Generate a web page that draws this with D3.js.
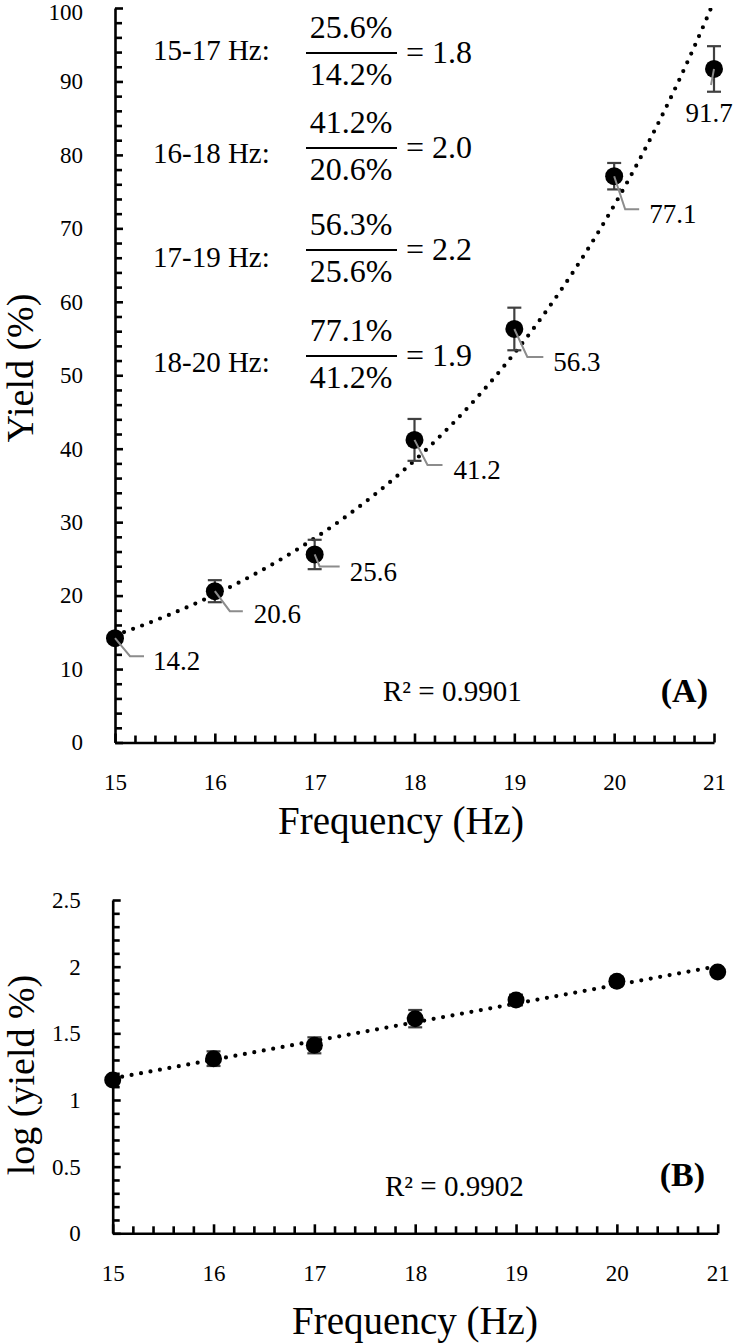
<!DOCTYPE html>
<html>
<head>
<meta charset="utf-8">
<script src="https://cdn.jsdelivr.net/npm/d3@7"></script>
<style>
  html, body { margin: 0; padding: 0; background: #fff; }
  svg { display: block; }
</style>
</head>
<body>
<svg id="chart" width="738" height="1343"></svg>
<script>
// ---------------- data ----------------
const freq = [15, 16, 17, 18, 19, 20, 21];
const yieldPct = [14.2, 20.6, 25.6, 41.2, 56.3, 77.1, 91.7];
const yieldErr = [0.3, 1.5, 2.0, 2.85, 2.9, 1.8, 3.1];
const logYield = [1.15, 1.31, 1.41, 1.61, 1.75, 1.89, 1.96];
const logErr = [0.02, 0.055, 0.06, 0.065, 0.04, 0.03, 0.02];
const yieldLabels = ["14.2", "20.6", "25.6", "41.2", "56.3", "77.1", "91.7"];

const xTicks = [15, 16, 17, 18, 19, 20, 21];
const yTicksA = [0, 10, 20, 30, 40, 50, 60, 70, 80, 90, 100];
const yTicksB = [0, 0.5, 1, 1.5, 2, 2.5];
const yTickLabelsB = ["0", "0.5", "1", "1.5", "2", "2.5"];

const ratioRanges = ["15-17 Hz:", "16-18 Hz:", "17-19 Hz:", "18-20 Hz:"];
const ratioNum = ["25.6%", "41.2%", "56.3%", "77.1%"];
const ratioDen = ["14.2%", "20.6%", "25.6%", "41.2%"];
const ratioVal = ["1.8", "2.0", "2.2", "1.9"];

const r2A = "R\u00B2 = 0.9901";
const r2B = "R\u00B2 = 0.9902";

// ---------------- layout ----------------
const FONT = '"Liberation Serif", "Times New Roman", "DejaVu Serif", serif';
const svg = d3.select("#chart");
const A = { x0: 115, x1: 714, yTop: 8, yBot: 742.5 };
const B = { x0: 112.7, x1: 717.7, yTop: 900, yBot: 1233.3 };

const xA = d3.scaleLinear().domain([15, 21]).range([A.x0, A.x1]);
const yA = d3.scaleLinear().domain([0, 100]).range([A.yBot, A.yTop]);
const xB = d3.scaleLinear().domain([15, 21]).range([B.x0, B.x1]);
const yB = d3.scaleLinear().domain([0, 2.5]).range([B.yBot, B.yTop]);

// label offsets (pixels) for panel A data labels: leader elbow, leader end, text anchor
const labelLayout = [
  { ex: 15, ey: 18, hx: 29, tx: 38, ty: 22, anchor: "start" },
  { ex: 15, ey: 20, hx: 28, tx: 39, ty: 22, anchor: "start" },
  { ex: 5, ey: 12, hx: 25, tx: 35, ty: 17, anchor: "start" },
  { ex: 13, ey: 25, hx: 28, tx: 39, ty: 30, anchor: "start" },
  { ex: 13, ey: 28, hx: 29, tx: 39, ty: 33, anchor: "start" },
  { ex: 11, ey: 33, hx: 25, tx: 35, ty: 37, anchor: "start" },
  { ex: -3, ey: 16, hx: -3, tx: -5, ty: 44, anchor: "middle" }
];
const ratioBarY = [53, 148, 250, 356];
const ratioLabelY = [60, 163, 267, 372];

const AXIS_W = 2.6;

function txt(sel) { return sel.style("font-family", FONT).style("fill", "#000"); }

function drawAxes(x, y, P, yMajor, yMinor, yFmt, xMinor, tickFont) {
  const gy = svg.append("g").attr("transform", `translate(${P.x0},0)`);
  gy.call(d3.axisLeft(y).tickValues(yMinor).tickSize(-7).tickFormat(""));
  gy.call(g => g.select(".domain").remove());
  gy.selectAll("line").attr("stroke", "#000").attr("stroke-width", AXIS_W);
  const gy2 = svg.append("g").attr("transform", `translate(${P.x0},0)`);
  gy2.call(d3.axisLeft(y).tickValues(yMajor).tickSize(-8).tickSizeOuter(0).tickPadding(32).tickFormat(yFmt));
  gy2.select(".domain").attr("stroke", "#000").attr("stroke-width", AXIS_W);
  gy2.selectAll("line").attr("stroke", "#000").attr("stroke-width", AXIS_W);
  txt(gy2.selectAll("text")).style("font-size", tickFont + "px");

  const gx = svg.append("g").attr("transform", `translate(0,${P.yBot})`);
  gx.call(d3.axisBottom(x).tickValues(xMinor).tickSize(-7).tickFormat(""));
  gx.call(g => g.select(".domain").remove());
  gx.selectAll("line").attr("stroke", "#000").attr("stroke-width", AXIS_W);
  const gx2 = svg.append("g").attr("transform", `translate(0,${P.yBot})`);
  gx2.call(d3.axisBottom(x).tickValues(xTicks).tickSize(-9).tickSizeOuter(0).tickPadding(31).tickFormat(d3.format("d")));
  gx2.select(".domain").attr("stroke", "#000").attr("stroke-width", AXIS_W);
  gx2.selectAll("line").attr("stroke", "#000").attr("stroke-width", AXIS_W);
  txt(gx2.selectAll("text")).style("font-size", tickFont + "px");
}

const minorA = d3.range(0, 101, 2).filter(v => v % 10 !== 0);
const minorXTicks = d3.range(15, 21.001, 0.2).map(v => +v.toFixed(1)).filter(v => Math.abs(v - Math.round(v)) > 1e-6);
const minorB = d3.range(0, 25, 1).map(v => v / 10).filter(v => Math.abs(v * 2 - Math.round(v * 2)) > 1e-6);

drawAxes(xA, yA, A, yTicksA, minorA, d3.format("d"), minorXTicks, 23);
drawAxes(xB, yB, B, yTicksB, minorB, (d, i) => yTickLabelsB[i], minorXTicks, 23);
// keep top label of panel A inside the picture
svg.selectAll("g.tick text").filter(function () { return this.textContent === "100"; }).attr("dy", "0.5em");

// ---------------- regression helper ----------------
function linFit(xs, ys) {
  const mx = d3.mean(xs), my = d3.mean(ys);
  const sxy = d3.sum(xs, (x, i) => (x - mx) * (ys[i] - my));
  const sxx = d3.sum(xs, x => (x - mx) * (x - mx));
  const b = sxy / sxx;
  return { a: my - b * mx, b };
}

// ---------------- Panel A ----------------
svg.append("defs").append("clipPath").attr("id", "clipA")
  .append("rect").attr("x", A.x0).attr("y", A.yTop).attr("width", A.x1 - A.x0 + 20).attr("height", A.yBot - A.yTop);

const fitA = linFit(freq, yieldPct.map(v => Math.log(v)));
const curveXs = d3.range(15, 21.0001, 0.02);
svg.append("path")
  .attr("clip-path", "url(#clipA)")
  .attr("d", d3.line().x(d => xA(d)).y(d => yA(Math.exp(fitA.a + fitA.b * d)))(curveXs))
  .attr("fill", "none").attr("stroke", "#000").attr("stroke-width", 4.2)
  .attr("stroke-linecap", "round").attr("stroke-dasharray", "0 9.6");

function errorBars(x, y, vals, errs) {
  const g = svg.append("g").attr("stroke", "#404040").attr("stroke-width", 2.2);
  freq.forEach((f, i) => {
    const cx = x(f), t = y(vals[i] + errs[i]), b = y(vals[i] - errs[i]);
    g.append("line").attr("x1", cx).attr("x2", cx).attr("y1", t).attr("y2", b);
    g.append("line").attr("x1", cx - 7).attr("x2", cx + 7).attr("y1", t).attr("y2", t);
    g.append("line").attr("x1", cx - 7).attr("x2", cx + 7).attr("y1", b).attr("y2", b);
  });
}
errorBars(xA, yA, yieldPct, yieldErr);

svg.append("g").selectAll("circle").data(freq).join("circle")
  .attr("cx", d => xA(d)).attr("cy", (d, i) => yA(yieldPct[i])).attr("r", 9).attr("fill", "#000");

const lab = svg.append("g");
freq.forEach((f, i) => {
  const px = xA(f), py = yA(yieldPct[i]), L = labelLayout[i];
  lab.append("polyline")
    .attr("points", `${px},${py} ${px + L.ex},${py + L.ey} ${px + L.hx},${py + L.ey}`)
    .attr("fill", "none").attr("stroke", "#8c8c8c").attr("stroke-width", 2);
  txt(lab.append("text")).attr("x", px + L.tx).attr("y", py + L.ty).attr("dy", "0.35em")
    .attr("text-anchor", L.anchor).style("font-size", "27px").text(yieldLabels[i]);
});

ratioRanges.forEach((r, i) => {
  const by = ratioBarY[i];
  txt(svg.append("text")).attr("x", 153).attr("y", ratioLabelY[i]).style("font-size", "29px").text(r);
  svg.append("line").attr("x1", 306).attr("x2", 397).attr("y1", by).attr("y2", by)
    .attr("stroke", "#000").attr("stroke-width", 2);
  txt(svg.append("text")).attr("x", 351).attr("y", by - 15).attr("text-anchor", "middle")
    .style("font-size", "32px").text(ratioNum[i]);
  txt(svg.append("text")).attr("x", 351).attr("y", by + 32).attr("text-anchor", "middle")
    .style("font-size", "32px").text(ratioDen[i]);
  txt(svg.append("text")).attr("x", 406).attr("y", by + 10).style("font-size", "32px").text("= " + ratioVal[i]);
});

txt(svg.append("text")).attr("x", 383).attr("y", 701).style("font-size", "29px").text(r2A);
txt(svg.append("text")).attr("x", 708).attr("y", 702).attr("text-anchor", "end")
  .style("font-size", "34px").style("font-weight", "bold").text("(A)");

txt(svg.append("text")).attr("x", 401).attr("y", 834).attr("text-anchor", "middle")
  .style("font-size", "39px").text("Frequency (Hz)");
txt(svg.append("text")).attr("transform", "translate(33,368) rotate(-90)").attr("text-anchor", "middle")
  .style("font-size", "38px").text("Yield (%)");

// ---------------- Panel B ----------------
const fitB = linFit(freq, logYield);
svg.append("path")
  .attr("d", d3.line().x(d => xB(d)).y(d => yB(fitB.a + fitB.b * d))([15, 21]))
  .attr("fill", "none").attr("stroke", "#000").attr("stroke-width", 4.2)
  .attr("stroke-linecap", "round").attr("stroke-dasharray", "0 9.6");

errorBars(xB, yB, logYield, logErr);
svg.append("g").selectAll("circle").data(freq).join("circle")
  .attr("cx", d => xB(d)).attr("cy", (d, i) => yB(logYield[i])).attr("r", 8.5).attr("fill", "#000");

txt(svg.append("text")).attr("x", 385).attr("y", 1196).style("font-size", "29px").text(r2B);
txt(svg.append("text")).attr("x", 705).attr("y", 1186).attr("text-anchor", "end")
  .style("font-size", "34px").style("font-weight", "bold").text("(B)");

txt(svg.append("text")).attr("x", 415).attr("y", 1334).attr("text-anchor", "middle")
  .style("font-size", "39px").text("Frequency (Hz)");
txt(svg.append("text")).attr("transform", "translate(34,1075) rotate(-90)").attr("text-anchor", "middle")
  .style("font-size", "38px").text("log (yield %)");
</script>
</body>
</html>
